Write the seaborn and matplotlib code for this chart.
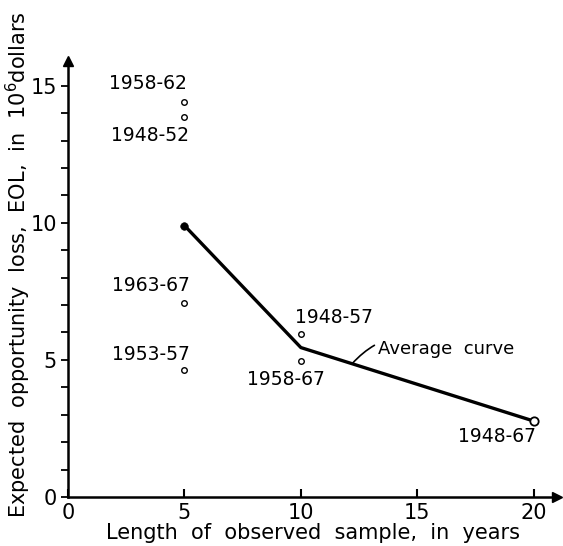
import matplotlib
matplotlib.use("Agg")
import matplotlib.pyplot as plt
import seaborn as sns
import pandas as pd

# Observed samples: length of sample (years), EOL (10^6 dollars), period label
sample_years = [5, 5, 5, 5, 10, 10, 20]
sample_eol = [14.4, 13.85, 7.08, 4.63, 5.95, 4.96, 2.77]
sample_labels = ["1958-62", "1948-52", "1963-67", "1953-57", "1948-57", "1958-67", "1948-67"]
label_x = [3.45, 3.52, 3.56, 3.56, 11.42, 9.36, 18.41]
label_y = [15.07, 13.2, 7.7, 5.18, 6.53, 4.27, 2.19]

# Average curve
avg_years = [5, 10, 20]
avg_eol = [9.9, 5.45, 2.77]

x_ticks = [0, 5, 10, 15, 20]
y_ticks = [0, 5, 10, 15]

sns.set_style("ticks")
plt.rcParams["font.family"] = ["DejaVu Sans"]
for key in ["text.color", "axes.labelcolor", "xtick.color", "ytick.color", "axes.edgecolor"]:
    plt.rcParams[key] = "black"

fig = plt.figure(figsize=(5.63, 5.46), dpi=100)
ax = fig.add_axes([68 / 563, 49 / 546, 489 / 563, 436 / 546])

samples = pd.DataFrame({"years": sample_years, "eol": sample_eol})
avg = pd.DataFrame({"years": avg_years, "eol": avg_eol})

sns.lineplot(data=avg, x="years", y="eol", ax=ax, color="black", linewidth=2.4)
sns.scatterplot(data=avg.iloc[:1], x="years", y="eol", ax=ax, color="black",
                s=30, edgecolor="black", zorder=4)
sns.scatterplot(data=samples.iloc[:6], x="years", y="eol", ax=ax, facecolor="white",
                edgecolor="black", linewidth=1.0, s=16, zorder=5)
sns.scatterplot(data=samples.iloc[6:], x="years", y="eol", ax=ax, facecolor="white",
                edgecolor="black", linewidth=1.3, s=36, zorder=5)

for lx, ly, txt in zip(label_x, label_y, sample_labels):
    ax.text(lx, ly, txt, ha="center", va="center", fontsize=13.5)

# Leader to the average curve
lead_x = 12.2
lead_y = avg_eol[1] + (avg_eol[2] - avg_eol[1]) * (lead_x - 10) / 10
ax.annotate("Average  curve", xy=(lead_x, lead_y), xytext=(13.3, 5.4),
            fontsize=13, ha="left", va="center",
            arrowprops=dict(arrowstyle="-", color="black", lw=1.2,
                            connectionstyle="arc3,rad=0.4", shrinkA=0, shrinkB=0))

ax.set_xlim(0, 21.0)
ax.set_ylim(0, 15.9)
ax.set_xticks(x_ticks)
ax.set_yticks(y_ticks)
ax.set_yticks(range(0, 16), minor=True)
ax.set_xticklabels([str(v) for v in x_ticks], fontsize=15)
ax.set_yticklabels([str(v) for v in y_ticks], fontsize=15)
ax.tick_params(axis="x", direction="in", length=6, width=1.5, pad=4)
ax.tick_params(axis="y", which="both", direction="out", length=5, width=1.3, pad=3)

for s in ["top", "right"]:
    ax.spines[s].set_visible(False)
for s in ["left", "bottom"]:
    ax.spines[s].set_linewidth(1.8)

# Axis arrowheads
ax.plot(1, 0, ">", color="black", markersize=7, transform=ax.transAxes, clip_on=False)
ax.plot(0, 1, "^", color="black", markersize=7, transform=ax.transAxes, clip_on=False)

ax.set_xlabel("Length  of  observed  sample,  in  years", fontsize=15, labelpad=0)
ax.set_ylabel("Expected  opportunity  loss,  EOL,  in  10$^6$dollars", fontsize=15)
ax.yaxis.set_label_coords(-0.072, 0.534)

fig.savefig("out.png", dpi=100)
